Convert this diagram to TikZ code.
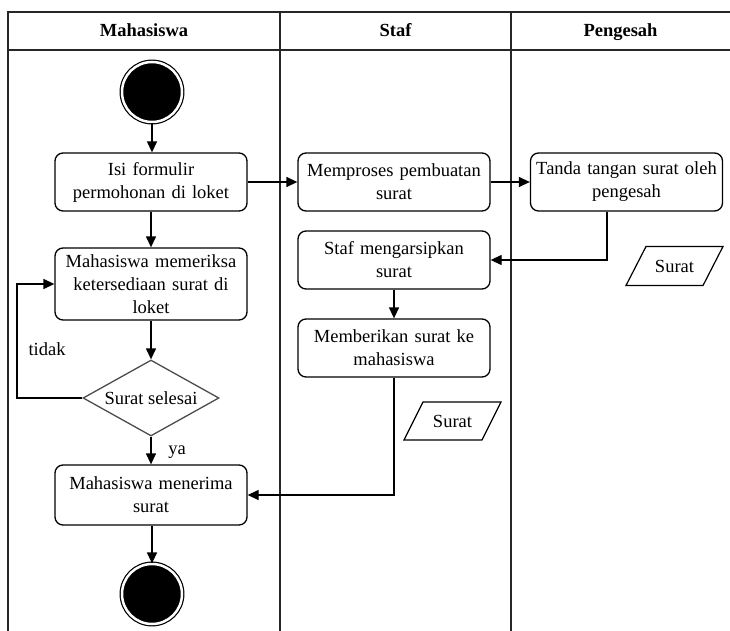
\documentclass[tikz,border=0pt]{standalone}
\usepackage{fontspec}
\setmainfont{Liberation Serif}
\usetikzlibrary{arrows.meta,shapes.geometric}
\begin{document}
\begin{tikzpicture}[x=1pt,y=-1pt,
  lane/.style={line width=1.6pt, draw=black!85},
  txt/.style={font=\fontsize{18.5}{23}\selectfont},
  act/.style={txt, draw, rounded corners=8pt, line width=1.3pt,
    minimum width=192pt, text width=186pt, align=center, inner sep=2pt},
  decision/.style={txt, draw=black!70, diamond, aspect=1.8, inner sep=0pt,
    line width=1.3pt, minimum width=136pt, minimum height=76pt},
  endpoint/.style={circle, minimum size=60pt, inner sep=0pt, fill=black,
    draw=black, line width=1.2pt, double=white, double distance=2.5pt},
  flow/.style={line width=1.3pt, -{Triangle[length=11pt,width=10pt]}},
  docshape/.style={draw, line width=1.2pt},
  head/.style={font=\fontsize{18.5}{23}\selectfont\bfseries,
    text height=13pt, text depth=4pt}
]
\useasboundingbox (0,0) rectangle (730,631);

% swimlane frame
\draw[lane] (730,12) -- (8,12) -- (8,631);
\draw[lane] (8,50) -- (730,50);
\draw[lane] (280,12) -- (280,631);
\draw[lane] (511,12) -- (511,631);
\node[head] (hm) at (144,32) {Mahasiswa};
\node[head] (hs) at (395.5,32) {Staf};
\node[head] (hp) at (620.5,32) {Pengesah};

% Mahasiswa lane
\node[endpoint] (start) at (152,92) {};
\node[act, minimum height=58pt] (isi) at (151,182) {Isi formulir\\permohonan di loket};
\node[act, minimum height=72pt] (cek) at (151,284) {Mahasiswa memeriksa\\ketersediaan surat di\\loket};
\node[decision] (sel) at (151,398) {Surat selesai};
\node[act, minimum height=60pt] (terima) at (151,495) {Mahasiswa menerima\\surat};
\node[endpoint] (stop) at (152,594) {};

% Staf lane
\node[act, minimum height=58pt] (proses) at (394,182) {Memproses pembuatan\\surat};
\node[act, minimum height=58pt] (arsip) at (394,260) {Staf mengarsipkan\\surat};
\node[act, minimum height=58pt] (beri) at (394,348) {Memberikan surat ke\\mahasiswa};
\node[txt] (suratS) at (452.5,421) {Surat};
\draw[docshape] (suratS.center) ++(-48.5,19) -- ++(19,-38) -- ++(78,0) -- ++(-19,38) -- cycle;

% Pengesah lane
\node[act, minimum height=58pt] (ttd) at (626.5,182) {Tanda tangan surat oleh\\pengesah};
\node[txt] (suratP) at (674.5,266) {Surat};
\draw[docshape] (suratP.center) ++(-48.5,19.5) -- ++(20,-39) -- ++(77,0) -- ++(-20,39) -- cycle;

% control flow
\draw[flow] (start) -- (start |- isi.north);
\draw[flow] (isi) -- (cek);
\draw[flow] (cek) -- (sel);
\draw[flow] (sel.west) -- (17,398) |- (cek.west);
\node[txt] (tidak) at (47,349) {tidak};
\draw[flow] (sel) -- (terima);
\node[txt] (ya) at (177,452) {ya};
\draw[flow] (terima.south -| start) -- (stop);
\draw[flow] (isi) -- (proses);
\draw[flow] (proses) -- (ttd);
\draw[flow] ([xshift=-19.5pt]ttd.south) |- (arsip.east);
\draw[flow] (arsip) -- (beri);
\draw[flow] (beri.south) |- (terima.east);
\end{tikzpicture}
\end{document}
